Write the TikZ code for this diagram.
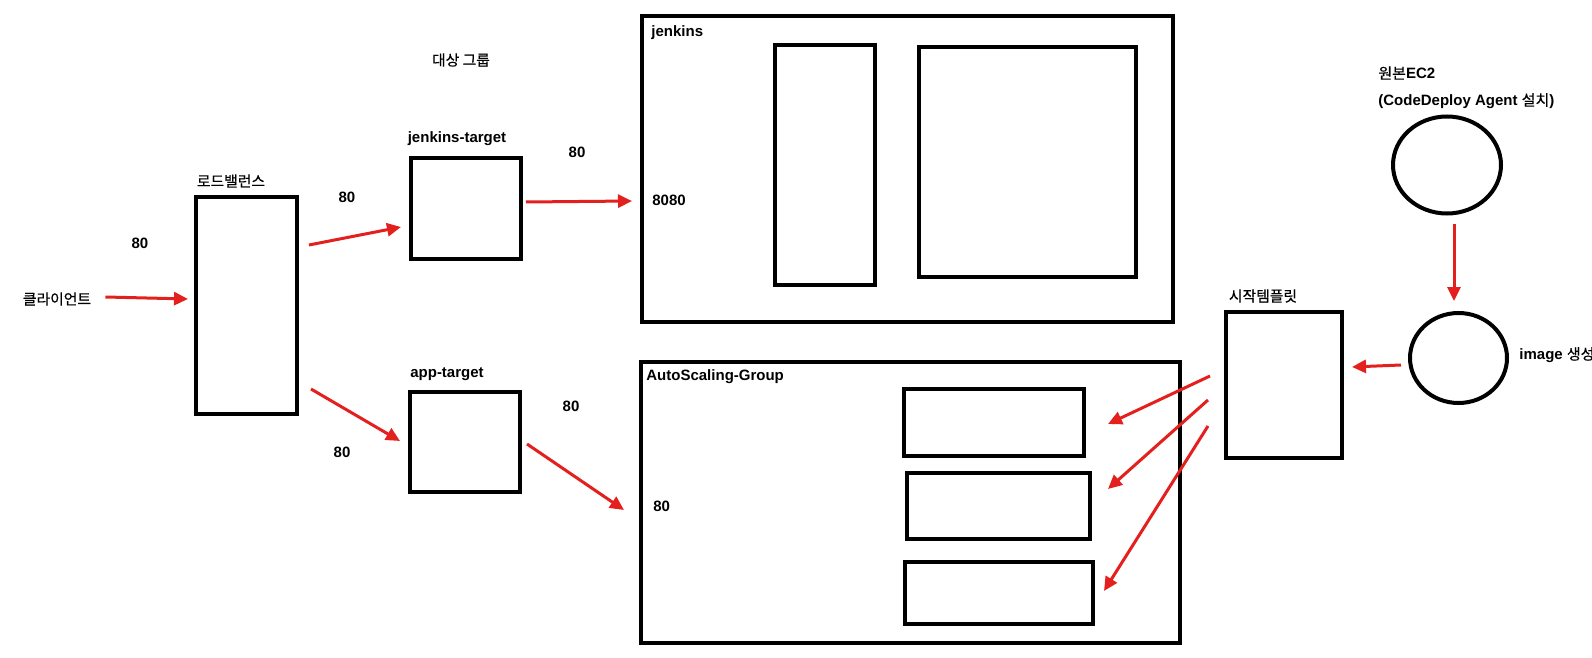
\documentclass[tikz,border=0pt]{standalone}
\usepackage{fontspec}
\setmainfont{Liberation Sans}
\newfontfamily\kr[FakeBold=0.5]{Noto Sans CJK KR}
\usepackage{tikz}
\usetikzlibrary{arrows.meta,positioning,calc,shapes.geometric}
\usepackage{xcolor}
\definecolor{redline}{HTML}{E4201E}

\begin{document}
\begin{tikzpicture}[
              x=0.5pt,
              y=-0.5pt,
              plainbox/.style={draw=black, line width=2pt, inner sep=0pt, anchor=north west},
              ring/.style={draw=black, ellipse, line width=2pt, inner sep=0pt},
              lbl/.style={font=\fontsize{7.5}{9}\selectfont\bfseries, inner sep=1pt},
              krlbl/.style={font=\fontsize{7.4}{9}\selectfont\kr, inner sep=1pt},
              arrow/.style={-{Triangle[length=7pt,width=6.5pt]}, line width=1.5pt, color=redline}
            ]
            \useasboundingbox (0,0) rectangle (1592,658);

            \node[plainbox, minimum width=50.5pt, minimum height=108.5pt] (lb) at (194,195) {};
            \node[plainbox, minimum width=55pt, minimum height=50.5pt] (jtarget) at (409,156) {};
            \node[plainbox, minimum width=55pt, minimum height=50pt] (apptarget) at (408,390) {};

            \node[plainbox, minimum width=265.5pt, minimum height=153pt] (jenkins) at (640,14) {};
            \node[plainbox, minimum width=50pt, minimum height=120pt] (jpanelA) at (773,43) {};
            \node[plainbox, minimum width=108.5pt, minimum height=115pt] (jpanelB) at (917,45) {};

            \node[plainbox, minimum width=269.5pt, minimum height=140.5pt] (asg) at (639,360) {};
            \node[plainbox, minimum width=90pt, minimum height=33.5pt] (instA) at (902,387) {};
            \node[plainbox, minimum width=91.5pt, minimum height=33pt] (instB) at (905,471) {};
            \node[plainbox, minimum width=94pt, minimum height=31pt] (instC) at (903,560) {};

            \node[plainbox, minimum width=58pt, minimum height=73pt] (template) at (1224,310) {};
            \node[ring, minimum width=54pt, minimum height=48.5pt] (ec2) at (1447,165) {};
            \node[ring, minimum width=48.5pt, minimum height=45pt] (image) at (1458.5,358) {};

            \node[krlbl] (client) at (57,299) {클라이언트};
            \node[lbl] (portclient) at (140,243) {80};
            \node[krlbl] (lbtitle) at (231,181) {로드밸런스};
            \node[lbl] (portjt) at (347,197) {80};
            \node[lbl] (portat) at (342,452) {80};
            \node[krlbl] (tgtitle) at (461,60) {대상 그룹};
            \node[lbl] (jttitle) at (457,139) {jenkins-target};
            \node[lbl] (attitle) at (447,374) {app-target};
            \node[lbl] (portjenkins) at (577,152) {80};
            \node[lbl] (portasg) at (571,406) {80};
            \node[lbl, anchor=west] (port8080) at (650,200) {8080};
            \node[lbl, anchor=west] (jtitle) at (649,33) {jenkins};
            \node[lbl, anchor=west] (asgtitle) at (644,377) {AutoScaling-Group};
            \node[lbl, anchor=west] (portinside) at (651,506) {80};
            \node[krlbl] (lttitle) at (1263,296) {시작템플릿};
            \node[lbl, anchor=west] (ec2title) at (1376,73) {{\kr\mdseries 원본}EC2};
            \node[lbl, anchor=west] (ec2note) at (1376,101) {(CodeDeploy Agent {\kr\mdseries 설치})};
            \node[lbl, anchor=west] (imgtitle) at (1517,355) {image {\kr\mdseries 생성}};

            \draw[arrow] ($(client.east)+(12,-2)$) -- ($(lb.west)+(-6,-6.5)$);
            \draw[arrow] ($(lb.east)+(10,-60.5)$) -- ($(jtarget.west)+(-8,18.5)$);
            \draw[arrow] ($(lb.east)+(12,83.5)$) -- ($(apptarget.west)+(-8,-1)$);
            \draw[arrow] ($(jtarget.east)+(3,-6.5)$) -- ($(jenkins.west)+(-8,32)$);
            \draw[arrow] ($(apptarget.east)+(5,2)$) -- ($(asg.west)+(-15,7.5)$);

            \draw[arrow] ($(template.west)+(-14,-9)$) -- ($(instA.east)+(22,1.5)$);
            \draw[arrow] ($(template.west)+(-16,15)$) -- ($(instB.east)+(16,-17)$);
            \draw[arrow] ($(template.west)+(-16,41)$) -- ($(instC.east)+(9,-2)$);

            \draw[arrow] ($(ec2.south)+(7,8.5)$) -- ($(image.north)+(-4.5,-10)$);
            \draw[arrow] ($(image.west)+(-7,7)$) -- ($(template.east)+(8,-18)$);
            \end{tikzpicture}
\end{document}
